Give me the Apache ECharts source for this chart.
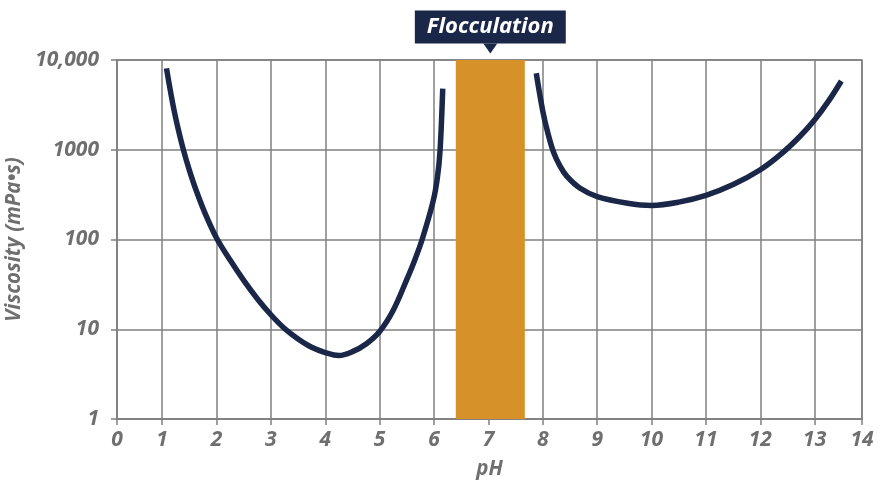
<!DOCTYPE html>
<html>
<head>
<meta charset="utf-8">
<script src="https://cdn.jsdelivr.net/npm/echarts@6/dist/echarts.min.js"></script>
<style>html,body{margin:0;padding:0;background:#fff}#c{width:878px;height:484px}</style>
</head>
<body>
<div id="c"></div>
<script>
// ---- data ----
const acidPH   = [1.08, 1.2, 1.3, 1.4, 1.5, 1.63, 1.8, 2.0, 2.25, 2.5, 2.75, 3.0, 3.25, 3.5, 3.75, 4.0, 4.25, 4.5, 4.75, 5.0, 5.25, 5.5, 5.65, 5.79, 5.98, 6.06, 6.11, 6.16];
const acidVisc = [8070, 3155, 1656, 953, 594, 347, 189, 104, 59, 35, 21.9, 14.5, 10.2, 7.8, 6.3, 5.5, 5.1, 5.63, 6.86, 9.45, 16.3, 36, 60, 104, 262, 481, 960, 4800];
const alkPH    = [7.88, 8.0, 8.1, 8.2, 8.32, 8.44, 8.68, 9.0, 9.56, 10.0, 10.5, 11.0, 11.5, 12.0, 12.39, 12.73, 13.0, 13.26, 13.49];
const alkVisc  = [7110, 2690, 1480, 933, 652, 508, 375, 301, 254, 240, 261, 310, 409, 598, 904, 1413, 2158, 3524, 5834];
const flocRange = [6.40, 7.67];
const flocLabel = 'Flocculation';
const xTickValues = [0.17, 1, 2, 3, 4, 5, 6, 7, 8, 9, 10, 11, 12, 13, 13.87];
const xTickLabels = ['0','1','2','3','4','5','6','7','8','9','10','11','12','13','14'];
const yTickValues = [1, 10, 100, 1000, 10000];
const yTickLabels = ['1','10','100','1000','10,000'];
const xTitle = 'pH';
const yTitle = 'Viscosity (mPa•s)';

const navy = '#1b2748';
const gridGrey = '#808080';
const textGrey = '#6f6f6f';
const font = "'Open Sans', 'Noto Sans', sans-serif";

const chart = echarts.init(document.getElementById('c'), null, {renderer: 'canvas'});
const zip = (a, b) => a.map((v, i) => [v, b[i]]);
const labelStyle = {color: textGrey, fontFamily: font, fontSize: 21, fontWeight: 'bold', fontStyle: 'italic'};
const titleStyle = {color: textGrey, fontFamily: font, fontSize: 20.5, fontWeight: 'bold', fontStyle: 'italic'};

chart.setOption({
  animation: false,
  grid: {left: 117, right: 16, top: 60, bottom: 65, outerBoundsMode: 'none', containLabel: false,
         show: true, borderColor: gridGrey, borderWidth: 1.5, backgroundColor: 'transparent'},
  xAxis: {
    type: 'value', min: xTickValues[0], max: xTickValues[xTickValues.length - 1],
    axisLine: {show: true, lineStyle: {color: gridGrey, width: 1.5}},
    axisTick: {show: true, length: 6, lineStyle: {color: gridGrey, width: 1.5}, customValues: xTickValues},
    splitLine: {show: true, lineStyle: {color: gridGrey, width: 1.5}},
    axisLabel: Object.assign({
      customValues: xTickValues, margin: 11,
      formatter: v => { const i = xTickValues.findIndex(t => Math.abs(t - v) < 1e-6); return i >= 0 ? xTickLabels[i] : ''; }
    }, labelStyle),
    name: xTitle, nameLocation: 'middle', nameGap: 40,
    nameTextStyle: titleStyle
  },
  yAxis: {
    type: 'log', logBase: 10, min: 1, max: 10000,
    axisLine: {show: true, lineStyle: {color: gridGrey, width: 1.5}},
    axisTick: {show: true, length: 6, lineStyle: {color: gridGrey, width: 1.5}},
    splitLine: {show: true, lineStyle: {color: gridGrey, width: 1.5}},
    axisLabel: Object.assign({
      margin: 18,
      formatter: v => { const i = yTickValues.findIndex(t => Math.abs(t - v) / t < 1e-6); return i >= 0 ? yTickLabels[i] : ''; }
    }, labelStyle),
    name: yTitle, nameLocation: 'middle', nameGap: 85, nameRotate: 90,
    nameTextStyle: titleStyle
  },
  series: [
    {
      type: 'line', name: 'band', data: [], silent: true, z: 1,
      markArea: {
        silent: true,
        itemStyle: {color: '#d69128', opacity: 1},
        data: [[{xAxis: flocRange[0], yAxis: 1}, {xAxis: flocRange[1], yAxis: 10000}]]
      },
      markPoint: {
        silent: true,
        symbol: 'triangle', symbolRotate: 180, symbolSize: [14, 10], symbolOffset: [0, -11.5],
        itemStyle: {color: navy},
        label: {
          show: true, position: 'top', distance: 0,
          formatter: flocLabel,
          backgroundColor: navy, color: '#ffffff', padding: [5, 12, 5, 12],
          fontFamily: font, fontSize: 22, fontWeight: 'bold', fontStyle: 'italic', lineHeight: 23
        },
        data: [{coord: [(flocRange[0] + flocRange[1]) / 2, 10000]}]
      }
    },
    {
      type: 'line', name: 'acid', data: zip(acidPH, acidVisc), smooth: 0.35, showSymbol: false, z: 3,
      lineStyle: {color: navy, width: 5.5}
    },
    {
      type: 'line', name: 'alkaline', data: zip(alkPH, alkVisc), smooth: 0.35, showSymbol: false, z: 3,
      lineStyle: {color: navy, width: 5.5}
    }
  ]
});
</script>
</body>
</html>
